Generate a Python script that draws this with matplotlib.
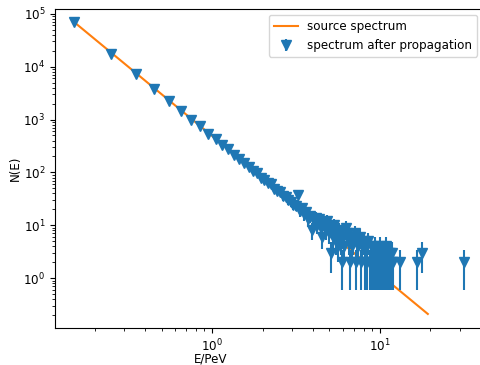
import numpy as np
import matplotlib
matplotlib.use("Agg")
import matplotlib.pyplot as plt

plt.rcParams["font.size"] = 8.6

# source spectrum (power law, straight line in log-log)
source_E = [0.15, 1.0, 19.35]
source_N = [70000, 490, 0.21]

# spectrum after propagation (bin centres in PeV, counts)
prop_E = [
    0.15, 0.25, 0.35, 0.45, 0.55, 0.65, 0.75, 0.85, 0.95, 1.05,
    1.15, 1.25, 1.35, 1.45, 1.55, 1.65, 1.75, 1.85, 1.95, 2.05,
    2.15, 2.25, 2.35, 2.45, 2.55, 2.65, 2.75, 2.85, 2.95, 3.05,
    3.15, 3.25, 3.35, 3.45, 3.55, 3.65, 3.75, 3.85, 3.95, 4.05,
    4.15, 4.25, 4.35, 4.45, 4.55, 4.65, 4.75, 4.85, 4.95, 5.05,
    5.15, 5.25, 5.35, 5.45, 5.55, 5.65, 5.75, 5.85, 5.95, 6.05,
    6.15, 6.25, 6.35, 6.55, 6.65, 6.75, 6.85, 6.95,
    7.15, 7.25, 7.35, 7.45, 7.65, 7.75, 7.85, 8.05,
    8.15, 8.25, 8.45, 8.55, 8.75, 8.85, 8.95,
    9.15, 9.25, 9.35, 9.45, 9.55, 9.65, 9.75, 9.85, 9.95, 10.05,
    10.15, 10.25, 10.35, 10.45, 10.55, 10.65, 10.75, 10.85, 10.95, 11.05,
    11.15, 11.25, 11.35, 11.45, 11.55, 11.75, 11.85, 12.05, 13.15, 16.65,
    17.75, 31.65,
]
prop_N = [
    70000, 17000, 7200, 3700, 2250, 1480, 1000, 760, 540, 420,
    330, 275, 215, 180, 150, 128, 104, 96, 80, 73,
    62, 60, 49, 44, 43, 35, 34, 30, 27, 24,
    23, 38, 19, 21, 16, 18, 13, 15, 8, 12,
    14, 10, 13, 9, 6, 11, 8, 12, 7, 9,
    3, 6, 10, 5, 7, 4, 8, 5, 2, 6,
    4, 9, 7, 5, 2, 6, 4, 5,
    7, 2, 5, 4, 6, 2, 4, 5,
    2, 4, 2, 5, 2, 4, 2,
    2, 2, 4, 2, 3, 2, 2, 3, 2, 4,
    2, 2, 3, 2, 2, 3, 2, 4, 2, 2,
    3, 2, 2, 3, 2, 2, 3, 2, 2, 2,
    3, 2,
]
prop_err = np.sqrt(prop_N)

fig = plt.figure(figsize=(4.8, 3.65), dpi=100)
ax = fig.add_axes([0.1146, 0.1014, 0.8917, 0.8739])

ax.plot(source_E, source_N, color="C1", label="source spectrum")
ax.errorbar(prop_E, prop_N, yerr=prop_err, fmt="v", color="C0",
            markersize=6.5, label="spectrum after propagation")

ax.set_xscale("log")
ax.set_yscale("log")
ax.set_xlim(0.1156, 41.3)
ax.set_ylim(0.114, 1.23e5)
ax.set_xlabel("E/PeV")
ax.xaxis.set_label_coords(0.363, -0.078)
ax.set_ylabel("N(E)", labelpad=1)
ax.legend(loc="upper right")

fig.savefig("out.png", dpi=100)
